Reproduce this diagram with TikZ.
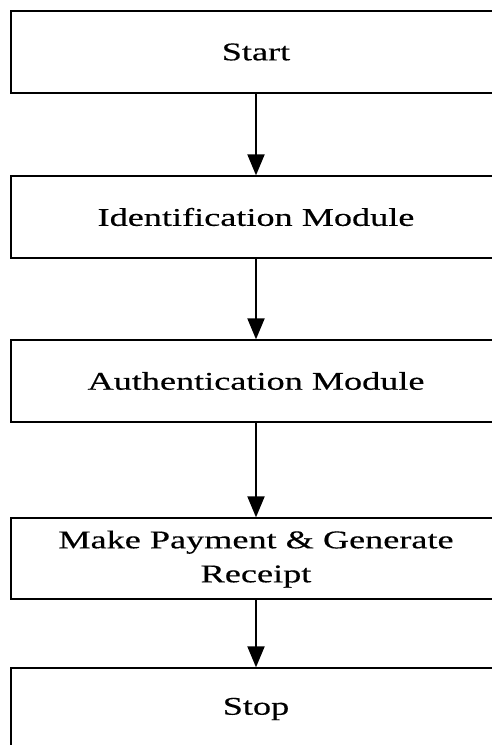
\documentclass[tikz,border=0pt]{standalone}
\usepackage{fontspec}
\usepackage{graphicx}
\setmainfont{Liberation Serif}
\newfontfamily\boxfont{Liberation Serif}[FakeBold=0.3]
\usetikzlibrary{arrows.meta}
% wide lettering used in every box
\newcommand\widetext[1]{\scalebox{1.42}[1]{#1}}
\begin{document}
\begin{tikzpicture}[x=1pt,y=1pt,
  stepbox/.style={draw=black, line width=1.3pt, minimum width=490pt,
    minimum height=82pt, inner sep=0pt, align=center,
    font=\boxfont\fontsize{25.5}{34}\selectfont},
  flow/.style={line width=2pt, -{Triangle[width=17pt,length=21pt]}}]
  \useasboundingbox (0,0) rectangle (491,745);
  \node[stepbox] (start) at (256,693) {\widetext{Start}};
  \node[stepbox] (ident) at (256,528) {\widetext{Identification Module}};
  \node[stepbox] (auth)  at (256,364) {\widetext{Authentication Module}};
  \node[stepbox, minimum height=81pt] (pay) at (256,186.5)
    {\widetext{\begin{tabular}{@{}c@{}}Make Payment \& Generate\\Receipt\end{tabular}}};
  \node[stepbox] (stop)  at (256,36) {\widetext{Stop}};
  \draw[flow] (start) -- (ident);
  \draw[flow] (ident) -- (auth);
  \draw[flow] (auth) -- (pay);
  \draw[flow] (pay) -- (stop);
\end{tikzpicture}
\end{document}
